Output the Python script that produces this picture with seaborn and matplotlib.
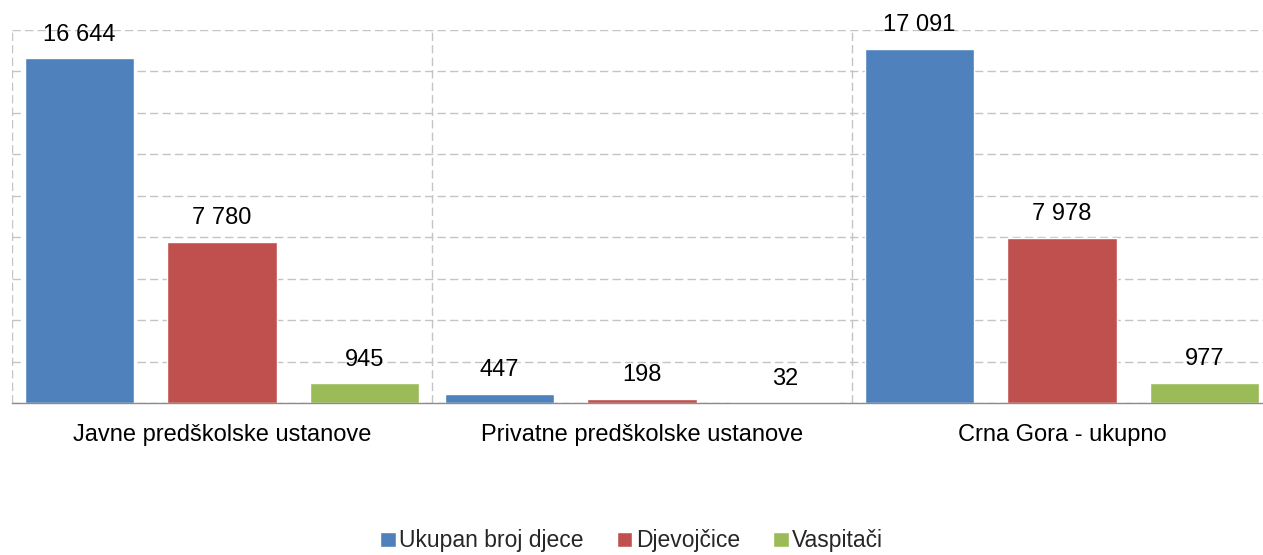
import matplotlib
matplotlib.use("Agg")
import matplotlib.pyplot as plt
import seaborn as sns
import pandas as pd

categories = ["Javne predškolske ustanove", "Privatne predškolske ustanove", "Crna Gora - ukupno"]
series_names = ["Ukupan broj djece", "Djevojčice", "Vaspitači"]
ukupno = [16644, 447, 17091]
djevojcice = [7780, 198, 7978]
vaspitaci = [945, 32, 977]
colors = ["#4F81BD", "#C0504D", "#9BBB59"]

rows = []
for name, vals in zip(series_names, [ukupno, djevojcice, vaspitaci]):
    for c, v in zip(categories, vals):
        rows.append({"cat": c, "series": name, "value": v})
df = pd.DataFrame(rows)

sns.set_style("white")
plt.rcParams["font.family"] = ["Liberation Sans", "DejaVu Sans"]

fig = plt.figure(figsize=(12.63, 5.55), dpi=100)
ax = fig.add_axes([12 / 1263, 1 - 403 / 555, 1260 / 1263, (403 - 30) / 555])

sns.barplot(data=df, x="cat", y="value", hue="series", order=categories,
            hue_order=series_names, palette=colors, width=1.02, gap=0.235,
            saturation=1, ax=ax, legend=True)

for cont in ax.containers:
    ax.bar_label(cont, labels=[f"{int(v):,}".replace(",", " ") for v in cont.datavalues],
                 padding=9, fontsize=17, color="black")

ax.set_xlim(-0.5, 2.5)
ax.set_ylim(0, 18000)
ax.set_yticks(range(0, 18001, 2000))
ax.set_yticklabels([])
ax.set_xticks([-0.5, 0.5, 1.5, 2.5], minor=True)
ax.grid(axis="y", which="major", color="#C4C4C4", linestyle=(0, (6, 3)), linewidth=1)
ax.grid(axis="x", which="minor", color="#C4C4C4", linestyle=(0, (6, 3)), linewidth=1)
ax.grid(axis="x", which="major", visible=False)
ax.set_axisbelow(True)
ax.tick_params(axis="both", which="both", length=0)
ax.tick_params(axis="x", which="major", pad=15, labelsize=17, labelcolor="black")
ax.set_xlabel("")
ax.set_ylabel("")
for s in ["top", "left", "right"]:
    ax.spines[s].set_visible(False)
ax.spines["bottom"].set_color("#8C8C8C")
ax.spines["bottom"].set_linewidth(1)

handles, labels = ax.get_legend_handles_labels()
ax.legend_.remove()
fig.legend(handles, labels, loc="center", bbox_to_anchor=(0.5, 1 - 541 / 555),
           ncol=3, frameon=False, fontsize=16.5, handlelength=0.68, handleheight=0.68,
           handletextpad=0.15, columnspacing=1.45, borderpad=0.1)

fig.savefig("out.png", dpi=100)
